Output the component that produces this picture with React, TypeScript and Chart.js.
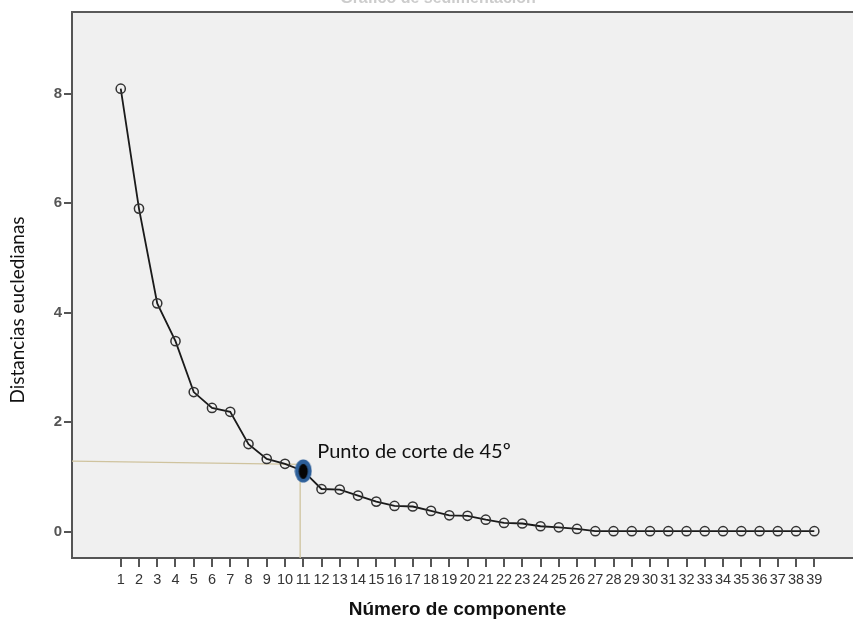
import { useEffect, useRef } from 'react';
import { Chart, registerables } from 'chart.js';

Chart.register(...registerables);

// ---- data ----
const components: number[] = [
  1, 2, 3, 4, 5, 6, 7, 8, 9, 10, 11, 12, 13, 14, 15, 16, 17, 18, 19, 20,
  21, 22, 23, 24, 25, 26, 27, 28, 29, 30, 31, 32, 33, 34, 35, 36, 37, 38, 39,
];
const distances: number[] = [
  8.09, 5.9, 4.17, 3.48, 2.55, 2.26, 2.19, 1.6, 1.33, 1.24, 1.11, 0.78, 0.77,
  0.66, 0.55, 0.47, 0.46, 0.38, 0.3, 0.29, 0.22, 0.16, 0.15, 0.1, 0.08, 0.05,
  0.01, 0.01, 0.01, 0.01, 0.01, 0.01, 0.01, 0.01, 0.01, 0.01, 0.01, 0.01, 0.01,
];
const yTickValues: number[] = [0, 2, 4, 6, 8];
const xTickValues: number[] = components;
const cutoffComponent = 11;
const cutoffLabel = 'Punto de corte de 45º';
const cutoffHLineX: number[] = [-1.67, 10.9];
const cutoffHLineY: number[] = [1.29, 1.23];
const cutoffVLineX: number[] = [10.83, 10.83];
const cutoffVLineY: number[] = [1.0, -0.48];
const chartTitle = 'Gráfico de sedimentación';
const xTitle = 'Número de componente';
const yTitle = 'Distancias eucledianas';

function makeCutoffMarker(): HTMLCanvasElement {
  const c = document.createElement('canvas');
  c.width = 18;
  c.height = 24;
  const g = c.getContext('2d')!;
  g.fillStyle = '#2d5f99';
  g.beginPath();
  g.ellipse(9, 12, 8.5, 11.5, 0, 0, Math.PI * 2);
  g.fill();
  g.fillStyle = '#050505';
  g.beginPath();
  g.ellipse(9, 12.5, 4.5, 7.5, 0, 0, Math.PI * 2);
  g.fill();
  return c;
}

export default function App() {
  const ref = useRef<HTMLCanvasElement | null>(null);

  useEffect(() => {
    if (!ref.current) return;
    const marker = makeCutoffMarker();
    const cutoffIndex = components.indexOf(cutoffComponent);

    const decorPlugin = {
      id: 'decor',
      beforeDraw(chart: any) {
        const { ctx, chartArea } = chart;
        ctx.save();
        ctx.fillStyle = '#f0f0f0';
        ctx.fillRect(chartArea.left, chartArea.top, chartArea.right - chartArea.left, chartArea.bottom - chartArea.top);
        ctx.restore();
      },
      afterDraw(chart: any) {
        const { ctx, chartArea, scales } = chart;
        ctx.save();
        // top frame line
        ctx.strokeStyle = '#5a5a5a';
        ctx.lineWidth = 2;
        ctx.beginPath();
        ctx.moveTo(chartArea.left - 1, chartArea.top);
        ctx.lineTo(chartArea.right, chartArea.top);
        ctx.stroke();
        // cut off title at top
        ctx.fillStyle = '#cccccc';
        ctx.font = 'bold 16px "Liberation Sans", Arial, sans-serif';
        ctx.textAlign = 'center';
        ctx.textBaseline = 'alphabetic';
        ctx.fillText(chartTitle, 438, 3);
        // x axis title
        ctx.fillStyle = '#111';
        ctx.font = 'bold 19px "Liberation Sans", Arial, sans-serif';
        ctx.textAlign = 'center';
        ctx.textBaseline = 'alphabetic';
        ctx.fillText(xTitle, 457.5, 615);
        // y axis title
        ctx.save();
        ctx.translate(18, 310);
        ctx.rotate(-Math.PI / 2);
        ctx.fillStyle = '#111';
        ctx.font = '19px Lato, "Open Sans", sans-serif';
        ctx.textAlign = 'center';
        ctx.textBaseline = 'middle';
        ctx.fillText(yTitle, 0, 0);
        ctx.restore();
        // annotation label
        const px = scales.x.getPixelForValue(cutoffComponent);
        const py = scales.y.getPixelForValue(distances[cutoffIndex]);
        ctx.fillStyle = '#111';
        ctx.font = '20px Lato, "Open Sans", sans-serif';
        ctx.textAlign = 'left';
        ctx.textBaseline = 'alphabetic';
        ctx.fillText(cutoffLabel, px + 14, py - 12.5);
        ctx.restore();
      },
    };

    const chart = new Chart(ref.current, {
      type: 'line',
      data: {
        datasets: [
          {
            data: components.map((c, i) => ({ x: c, y: distances[i] })),
            borderColor: '#1a1a1a',
            borderWidth: 1.8,
            pointRadius: 4.6,
            pointBorderWidth: 1.5,
            pointBorderColor: '#333',
            pointBackgroundColor: 'rgba(0,0,0,0)',
            pointStyle: (ctx: any) => (ctx.dataIndex === cutoffIndex ? marker : 'circle'),
            tension: 0,
          } as any,
          {
            data: cutoffHLineX.map((x, i) => ({ x, y: cutoffHLineY[i] })),
            borderColor: '#cfc39e',
            borderWidth: 1.3,
            pointRadius: 0,
          },
          {
            data: cutoffVLineX.map((x, i) => ({ x, y: cutoffVLineY[i] })),
            borderColor: '#cfc39e',
            borderWidth: 1.3,
            pointRadius: 0,
          },
        ],
      },
      options: {
        animation: false,
        responsive: true,
        maintainAspectRatio: false,
        layout: { autoPadding: false, padding: { top: 12, right: 0, left: 0, bottom: 0 } },
        plugins: { legend: { display: false }, tooltip: { enabled: false } },
        scales: {
          x: {
            type: 'linear',
            min: -1.67,
            max: 41.12,
            afterFit: (s: any) => {
              s.height = 61;
              s.paddingLeft = 0;
              s.paddingRight = 0;
            },
            afterBuildTicks: (s: any) => {
              s.ticks = xTickValues.map((v) => ({ value: v }));
            },
            grid: {
              drawOnChartArea: false,
              drawTicks: true,
              tickLength: 9,
              color: '#555',
              lineWidth: 2,
            },
            border: { display: true, color: '#555', width: 2 },
            ticks: {
              autoSkip: false,
              maxRotation: 0,
              padding: 4,
              color: '#333',
              font: { family: '"Liberation Sans", Arial, sans-serif', size: 14.5 },
              callback: (v: any) => String(v),
            },
          },
          y: {
            type: 'linear',
            min: -0.48,
            max: 9.49,
            afterFit: (s: any) => {
              s.width = 72;
              s.paddingTop = 0;
              s.paddingBottom = 0;
            },
            afterBuildTicks: (s: any) => {
              s.ticks = yTickValues.map((v) => ({ value: v }));
            },
            grid: {
              drawOnChartArea: false,
              drawTicks: true,
              tickLength: 8,
              color: '#555',
              lineWidth: 2,
            },
            border: { display: true, color: '#555', width: 2 },
            ticks: {
              padding: 2,
              color: '#555',
              font: { family: '"Liberation Sans", Arial, sans-serif', size: 15, weight: 'bold' },
              callback: (v: any) => String(v),
            },
          },
        },
      },
      plugins: [decorPlugin],
    } as any);

    return () => chart.destroy();
  }, []);

  return (
    <div style={{ position: 'absolute', left: 0, top: 0, width: 853, height: 619, background: '#fff', overflow: 'hidden' }}>
      <canvas ref={ref} style={{ display: 'block' }} />
    </div>
  );
}
